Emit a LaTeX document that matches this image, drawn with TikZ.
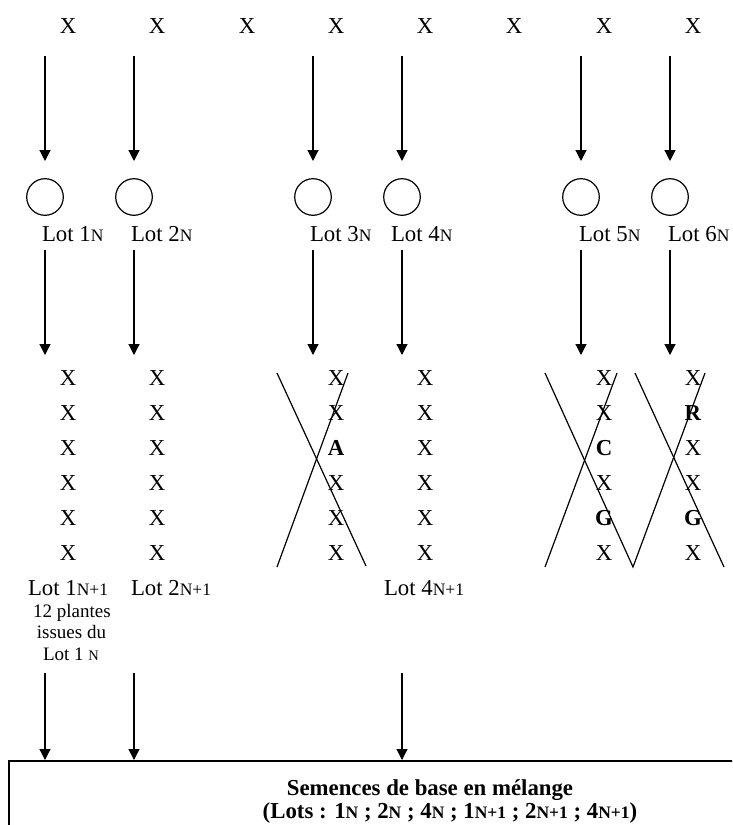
\documentclass[tikz,border=0pt]{standalone}
\usepackage{fontspec}
\setmainfont{Liberation Serif}
\usetikzlibrary{arrows.meta}
\newcommand{\lotN}[1]{{\fontsize{17.5}{20}\selectfont #1}}
\begin{document}
\begin{tikzpicture}[x=1pt,y=-1pt,
  every node/.style={inner sep=0pt, outer sep=0pt, font=\fontsize{22.8}{26}\selectfont},
  arr/.style={line width=1.2pt, -{Triangle[length=11pt,width=11pt]}},
  lotcircle/.style={circle, draw, line width=1.2pt, minimum size=36.6pt},
  lotlabel/.style={anchor=base west},
  cell/.style={anchor=base},
  cross/.style={line width=1.2pt},
  smalltxt/.style={anchor=base, font=\fontsize{19}{21.5}\selectfont},
  boxtxt/.style={anchor=base, font=\fontsize{22.8}{26}\selectfont\bfseries}]
\useasboundingbox (0,0) rectangle (732,825);
\clip (0,0) rectangle (732,825);

% top row of X
\foreach \x [count=\i] in {68,157,247,336,425,514,604,693}
  \node[cell] (t\i) at (\x,33.3) {X};

% first arrows
\foreach \x [count=\i] in {45,134,313,402,581,670} {
  \coordinate (a\i s) at (\x,56);
  \coordinate (a\i e) at (\x,161);
  \draw[arr] (a\i s) -- (a\i e);
}

% circles
\foreach \x [count=\i] in {45,134,313,402,581,670}
  \node[lotcircle] (c\i) at (\x,197) {};

% lot labels
\node[lotlabel] (l1) at (42,241.7) {Lot 1\lotN{N}};
\node[lotlabel] (l2) at (131,241.7) {Lot 2\lotN{N}};
\node[lotlabel] (l3) at (310,241.7) {Lot 3\lotN{N}};
\node[lotlabel] (l4) at (391,241.7) {Lot 4\lotN{N}};
\node[lotlabel] (l5) at (579,241.7) {Lot 5\lotN{N}};
\node[lotlabel] (l6) at (668,241.7) {Lot 6\lotN{N}};

% second arrows
\foreach \x [count=\i] in {45,134,313,402,581,670} {
  \coordinate (b\i s) at (\x,250);
  \coordinate (b\i e) at (\x,355);
  \draw[arr] (b\i s) -- (b\i e);
}

% grid of plants
\foreach \x [count=\c] in {68,157,336,425,604,693}
  \foreach \r in {1,...,6}
    \node[cell] (g\c\r) at (\x,{385+35*(\r-1)}) {\phantom{X}};
\foreach \c in {1,2,4}
  \foreach \r in {1,...,6}
    \node[cell] at (g\c\r.base) {X};
% lot 3
\foreach \r in {1,2,4,5,6} \node[cell] at (g3\r.base) {X};
\node[cell] at (g33.base) {\textbf{A}};
% lot 5
\foreach \r in {1,2,4,6} \node[cell] at (g5\r.base) {X};
\node[cell] at (g53.base) {\textbf{C}};
\node[cell] at (g55.base) {\textbf{G}};
% lot 6
\foreach \r in {1,3,4,6} \node[cell] at (g6\r.base) {X};
\node[cell] at (g62.base) {\textbf{R}};
\node[cell] at (g65.base) {\textbf{G}};

% crossing lines
\coordinate (x3a) at (277,373); \coordinate (x3b) at (366,566);
\coordinate (x3c) at (348,373); \coordinate (x3d) at (277,567);
\draw[cross] (x3a) -- (x3b);
\draw[cross] (x3c) -- (x3d);
\coordinate (x5a) at (545,373); \coordinate (v) at (633,567);
\coordinate (x5c) at (617,373); \coordinate (x5d) at (545,567);
\coordinate (x6a) at (635,373); \coordinate (x6b) at (724,567);
\coordinate (x6c) at (705,373);
\draw[cross] (x5a) -- (v) -- (x6c);
\draw[cross] (x5c) -- (x5d);
\draw[cross] (x6a) -- (x6b);

% next generation labels
\node[lotlabel] (m1) at (28,595) {Lot 1\lotN{N+1}};
\node[lotlabel] (m2) at (131,595) {Lot 2\lotN{N+1}};
\node[lotlabel] (m4) at (384,595) {Lot 4\lotN{N+1}};
\node[smalltxt] (s1) at (72,617) {12 plantes};
\node[smalltxt] (s2) at (71.5,638) {issues du};
\node[smalltxt] (s3) at (71,660) {Lot 1 {\fontsize{14.5}{16}\selectfont N}};

% final arrows
\foreach \x [count=\i] in {45,134,402} {
  \coordinate (d\i s) at (\x,673);
  \coordinate (d\i e) at (\x,760);
  \draw[arr] (d\i s) -- (d\i e);
}

% box
\draw[line width=1.5pt] (9,900) -- (9,761) -- (860,761);
\node[boxtxt] (bt1) at (430,795) {Semences de base en mélange};
\node[boxtxt] (bt2) at (450,818) {(Lots : 1\lotN{N} ; 2\lotN{N} ; 4\lotN{N} ; 1\lotN{N+1} ; 2\lotN{N+1} ; 4\lotN{N+1})};
\end{tikzpicture}
\end{document}
